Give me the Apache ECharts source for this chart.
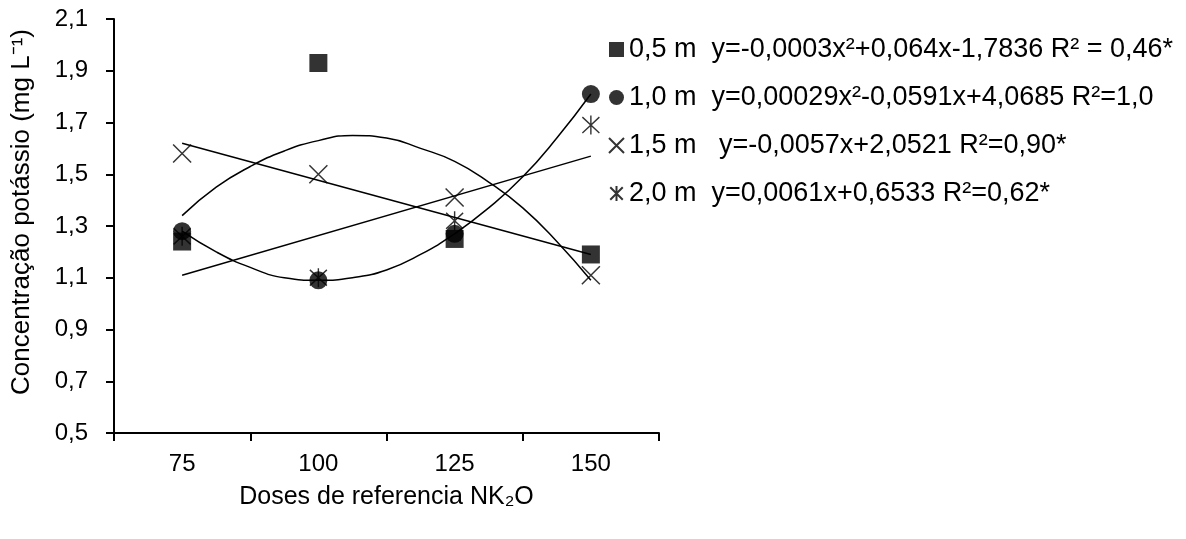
<!DOCTYPE html>
<html>
<head>
<meta charset="utf-8">
<script src="https://cdn.jsdelivr.net/npm/echarts@6/dist/echarts.min.js"></script>
<style>html,body{margin:0;padding:0;background:#fff}#c{width:1186px;height:539px}</style>
</head>
<body>
<div id="c"></div>
<script>
// ---- data ----
const doses = [75, 100, 125, 150];
const doseLabels = ['75', '100', '125', '150'];
const yTickLabels = ['0,5', '0,7', '0,9', '1,1', '1,3', '1,5', '1,7', '1,9', '2,1'];
const seriesNames = ['0,5 m', '1,0 m', '1,5 m', '2,0 m'];
const equations = [
  'y=-0,0003x²+0,064x-1,7836 R² = 0,46*',
  'y=0,00029x²-0,0591x+4,0685 R²=1,0',
  ' y=-0,0057x+2,0521 R²=0,90*',
  'y=0,0061x+0,6533 R²=0,62*'
];
const k05 = [1.24, 1.93, 1.25, 1.19];
const k10 = [1.28, 1.09, 1.27, 1.81];
const k15 = [1.58, 1.50, 1.41, 1.11];
const k20 = [1.26, 1.10, 1.32, 1.69];
// trend lines
const curveX = [75, 81.25, 87.5, 93.75, 100, 106.25, 112.5, 118.75, 125, 131.25, 137.5, 143.75, 150];
const trend05 = [1.34, 1.45, 1.53, 1.59, 1.63, 1.65, 1.64, 1.60, 1.55, 1.47, 1.37, 1.24, 1.09];
const trend10 = [1.28, 1.20, 1.14, 1.10, 1.09, 1.10, 1.13, 1.19, 1.27, 1.37, 1.49, 1.64, 1.81];
const lineX = [75, 150];
const trend15 = [1.62, 1.19];
const trend20 = [1.11, 1.57];

const FONT = '"Liberation Sans", Arial, Helvetica, sans-serif';
const X_PATH = 'path://M0,0L10,10M10,0L0,10';
const AST_PATH = 'path://M0,1L10,11M10,1L0,11M5,0L5,12';

function pts(xs, ys) { return xs.map((x, i) => [x, ys[i]]); }

const chart = echarts.init(document.getElementById('c'), null, {renderer: 'canvas'});
const axisLine = {show: true, onZero: false, lineStyle: {color: '#000', width: 2}};
const axisTick = {show: true, length: 8, lineStyle: {color: '#000', width: 2}};

const scatterBase = {type: 'scatter', xAxisIndex: 1, yAxisIndex: 1, z: 3};
const trendBase = {type: 'line', xAxisIndex: 1, yAxisIndex: 1, showSymbol: false, symbol: 'none',
  lineStyle: {color: '#000', width: 1.5}, silent: true, z: 2};

chart.setOption({
  animation: false,
  backgroundColor: '#fff',
  textStyle: {fontFamily: FONT, color: '#000'},
  grid: {left: 114, top: 19, width: 545, height: 414, containLabel: false},
  legend: {
    orient: 'vertical', left: 603, top: 31, itemGap: 21,
    itemWidth: 15, itemHeight: 15,
    data: seriesNames,
    textStyle: {fontFamily: FONT, fontSize: 27, color: '#000',
      rich: {n: {fontSize: 27, fontFamily: FONT}, e: {fontSize: 27, fontFamily: FONT}}},
    formatter: function (name) {
      const i = seriesNames.indexOf(name);
      return '{n|' + name + '}  {e|' + equations[i] + '}';
    },
    selectedMode: false
  },
  xAxis: [
    {type: 'category', data: doseLabels, boundaryGap: true, position: 'bottom',
      axisLine: axisLine, axisTick: axisTick,
      axisLabel: {fontSize: 24, color: '#000', margin: 19, fontFamily: FONT},
      splitLine: {show: false},
      name: 'Doses de referencia NK₂O', nameLocation: 'middle', nameGap: 52,
      nameTextStyle: {fontSize: 25, color: '#000', fontFamily: FONT}},
    {type: 'value', show: false, min: 62.5, max: 162.5, splitLine: {show: false}}
  ],
  yAxis: [
    {type: 'category', data: yTickLabels, boundaryGap: false, position: 'left',
      axisLine: axisLine, axisTick: axisTick,
      axisLabel: {fontSize: 24, color: '#000', margin: 26, fontFamily: FONT},
      splitLine: {show: false},
      name: 'Concentração potássio (mg L⁻¹)', nameLocation: 'middle', nameGap: 79, nameRotate: 90,
      nameTextStyle: {fontSize: 26, color: '#000', fontFamily: FONT, padding: [0, 0, 0, 28]}},
    {type: 'value', show: false, min: 0.5, max: 2.1, splitLine: {show: false}}
  ],
  series: [
    Object.assign({}, trendBase, {name: 't05', data: pts(curveX, trend05), smooth: true}),
    Object.assign({}, trendBase, {name: 't10', data: pts(curveX, trend10), smooth: true}),
    Object.assign({}, trendBase, {name: 't15', data: pts(lineX, trend15)}),
    Object.assign({}, trendBase, {name: 't20', data: pts(lineX, trend20)}),
    Object.assign({}, scatterBase, {name: seriesNames[3], data: pts(doses, k20), symbol: AST_PATH, symbolSize: [17, 19],
      itemStyle: {color: 'rgba(0,0,0,0)', borderColor: '#000', borderWidth: 1.5}}),
    Object.assign({}, scatterBase, {name: seriesNames[2], data: pts(doses, k15), symbol: X_PATH, symbolSize: [18, 18],
      itemStyle: {color: 'rgba(0,0,0,0)', borderColor: '#000', borderWidth: 1.5}}),
    Object.assign({}, scatterBase, {name: seriesNames[1], data: pts(doses, k10), symbol: 'circle', symbolSize: 18,
      itemStyle: {color: '#000'}}),
    Object.assign({}, scatterBase, {name: seriesNames[0], data: pts(doses, k05), symbol: 'rect', symbolSize: 18,
      itemStyle: {color: '#000'}})
  ]
});
</script>
</body>
</html>
